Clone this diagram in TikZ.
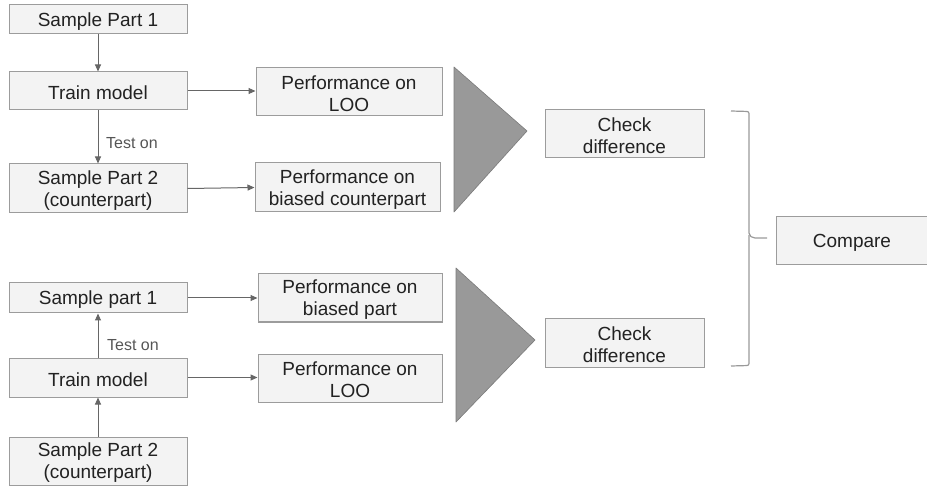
\documentclass[tikz,border=0pt]{standalone}
\usepackage{fontspec}
\setmainfont{Liberation Sans}
\usetikzlibrary{arrows.meta}
\definecolor{boxfill}{HTML}{F3F3F3}
\definecolor{boxline}{HTML}{9C9C9C}
\definecolor{txt}{HTML}{222222}
\definecolor{arr}{HTML}{666666}
\definecolor{tri}{HTML}{999999}
\definecolor{triline}{HTML}{7A7A7A}
\definecolor{lbl}{HTML}{555555}
\begin{document}
\begin{tikzpicture}[x=1pt,y=-1pt,
  box/.style={draw=boxline, line width=1pt, fill=boxfill, inner sep=0pt},
  boxtext/.style={text=txt, inner sep=0pt, align=center, yshift=-2pt,
    font=\fontsize{19}{22}\selectfont},
  flow/.style={draw=arr, line width=1pt, -{Triangle[length=7pt,width=6pt]}},
  testlbl/.style={text=lbl, font=\fontsize{16}{18}\selectfont, inner sep=0pt, anchor=west},
  shade/.style={fill=tri, draw=triline, line width=0.6pt, line join=round},
  bracket/.style={draw=tri, line width=1.2pt}]
\useasboundingbox (0,0) rectangle (927,489);

% upper experiment
\node[box, minimum width=178pt, minimum height=29pt, label={[boxtext]center:Sample Part 1}] (sp1a) at (98,19.5) {};
\node[box, minimum width=178pt, minimum height=38pt, label={[boxtext]center:Train model}] (tm1) at (98,91) {};
\node[box, minimum width=178pt, minimum height=49pt, label={[boxtext]center:{Sample Part 2\\(counterpart)}}] (sp2a) at (98,188.5) {};
\node[box, minimum width=186pt, minimum height=48pt, label={[boxtext]center:{Performance on\\LOO}}] (loo1) at (349,92) {};
\node[box, minimum width=185pt, minimum height=49pt, label={[boxtext]center:{Performance on\\biased counterpart}}] (bc) at (347.5,187.5) {};

% lower experiment
\node[box, minimum width=178pt, minimum height=30pt, label={[boxtext]center:Sample part 1}] (sp1b) at (98,298) {};
\node[box, minimum width=178pt, minimum height=39pt, label={[boxtext]center:Train model}] (tm2) at (98,377.5) {};
\node[box, minimum width=178pt, minimum height=48pt, label={[boxtext]center:{Sample Part 2\\(counterpart)}}] (sp2b) at (98,461) {};
\node[box, minimum width=184pt, minimum height=48pt, label={[boxtext]center:{Performance on\\biased part}}] (bp) at (350,298) {};
\node[box, minimum width=184pt, minimum height=48pt, label={[boxtext]center:{Performance on\\LOO}}] (loo2) at (350,378) {};

% comparison
\node[box, minimum width=159pt, minimum height=48pt, label={[boxtext]center:{Check\\difference}}] (cd1) at (624.5,134) {};
\node[box, minimum width=159pt, minimum height=48pt, label={[boxtext]center:{Check\\difference}}] (cd2) at (624.5,343) {};
\node[box, minimum width=152pt, minimum height=48pt, label={[boxtext]center:Compare}] (cmp) at (852,241) {};

% connectors, upper
\draw[flow] (sp1a) -- (tm1);
\draw[flow] (tm1) -- (sp2a);
\node[testlbl] (t1) at (106,143) {Test on};
\draw[flow] (tm1.east) -- (tm1.east -| loo1.west);
\draw[flow] (sp2a.east) -- (bc.west);

% connectors, lower
\draw[flow] (sp2b) -- (tm2);
\draw[flow] (tm2) -- (sp1b);
\node[testlbl] (t2) at (107,345) {Test on};
\draw[flow] (sp1b.east) -- (sp1b.east -| bp.west);
\draw[flow] (tm2.east) -- (tm2.east -| loo2.west);

% funnels into the difference checks
\draw[shade] (454,67) -- (527,131) -- (454,212) -- cycle;
\draw[shade] (456,268) -- (535,340) -- (456,422) -- cycle;

% bracket gathering both checks
\draw[bracket, rounded corners=2pt] (731,111) -- (749,111.5) -- (749,235) -- (753,238) -- (767,238);
\draw[bracket, rounded corners=2pt] (749,235) -- (749,241) -- (749,365.5) -- (731,366);
\end{tikzpicture}
\end{document}
